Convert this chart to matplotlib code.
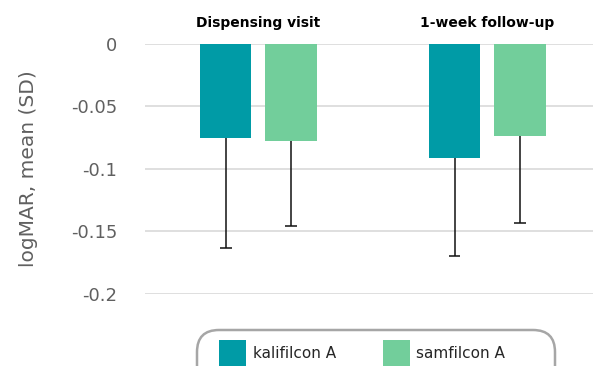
import matplotlib
matplotlib.use("Agg")
import matplotlib.pyplot as plt
from matplotlib.patches import FancyBboxPatch, Rectangle
from matplotlib.transforms import IdentityTransform
import numpy as np

categories = ["Dispensing visit", "1-week follow-up"]
series_names = ["kalifilcon A", "samfilcon A"]
means = {"kalifilcon A": [-0.075, -0.091], "samfilcon A": [-0.078, -0.074]}
sds = {"kalifilcon A": [0.088, 0.079], "samfilcon A": [0.068, 0.069]}
yticks = [0, -0.05, -0.1, -0.15, -0.2]
ytick_labels = ["0", "-0.05", "-0.1", "-0.15", "-0.2"]
colors = {"kalifilcon A": "#009BA6", "samfilcon A": "#72CE9B"}

plt.rcParams['font.family'] = ['DejaVu Sans']
W, H = 593, 366
fig = plt.figure(figsize=(W / 100, H / 100), dpi=100)
ax = fig.add_axes([145 / W, 1 - 294 / H, (593 - 145) / W, (294 - 43.7) / H])

x = np.arange(len(categories))
width = 0.225
offsets = [-0.143, 0.143]
cap_half = 0.026
for name, off in zip(series_names, offsets):
    m = np.array(means[name])
    sd = np.array(sds[name])
    xs = x + off
    ax.bar(xs, m, width, color=colors[name], zorder=2)
    ax.vlines(xs, m - sd, m, color='#111111', linewidth=1.1, zorder=3)
    ax.hlines(m - sd, xs - cap_half, xs + cap_half, color='#111111', linewidth=1.1, zorder=3)

ax.set_ylim(-0.2, 0)
ax.set_xlim(-0.495, 1.462)
ax.set_yticks(yticks)
ax.set_yticklabels(ytick_labels, color='#606060', fontsize=13)
ax.tick_params(axis='y', length=0, pad=20)
ax.set_xticks([])
for s in ax.spines.values():
    s.set_visible(False)
ax.grid(axis='y', color='#d9d9d9', linewidth=1.2, zorder=0)
ax.set_axisbelow(True)
ax.set_ylabel("logMAR, mean (SD)", color='#606060', fontsize=14.5)
ax.yaxis.set_label_coords(-(145 - 38) / (593 - 145), 0.5)

for xi, cat in zip(x, categories):
    ax.text(xi, 1.0 + 21 / (294 - 43.7), cat, transform=ax.get_xaxis_transform(),
            ha='center', va='center', fontsize=10, fontweight='bold', color='black')

# legend (manually drawn, extends past the figure bottom)
box = FancyBboxPatch((197, -30), 555 - 197, (H - 330) + 30,
                     boxstyle="round,pad=0,rounding_size=22",
                     transform=IdentityTransform(), facecolor='white', edgecolor='#a6a6a6',
                     linewidth=1.8, clip_on=False)
fig.patches.append(box)
leg_x = [219, 382.5]
for name, lx in zip(series_names, leg_x):
    r = Rectangle((lx / W, 0), 27 / W, (H - 340) / H, transform=fig.transFigure,
                  facecolor=colors[name], edgecolor='none')
    fig.patches.append(r)
    fig.text((lx + 34) / W, 1 - 354 / H, name, fontsize=11, color='#262626',
             ha='left', va='center')

fig.savefig("out.png", dpi=100)
